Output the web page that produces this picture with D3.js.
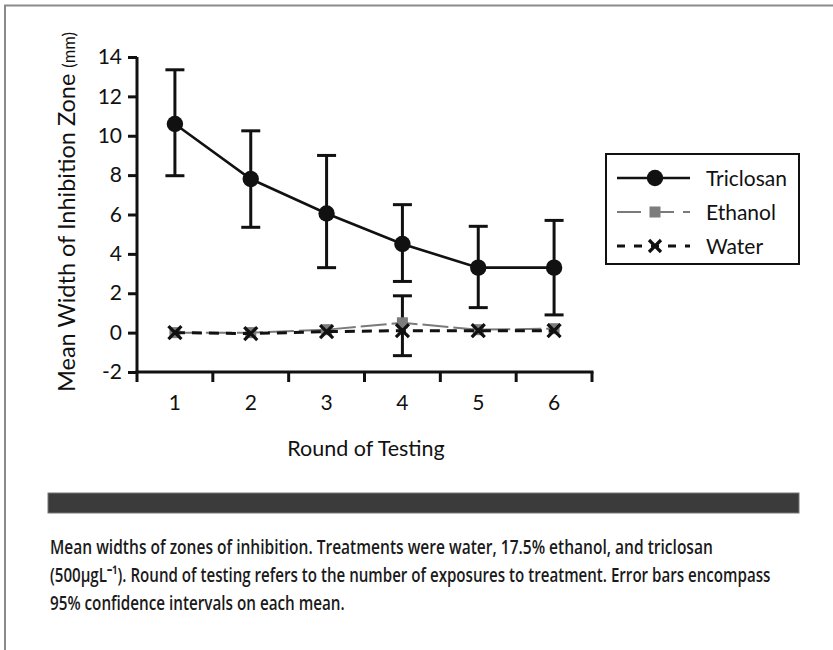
<!DOCTYPE html>
<html>
<head>
<meta charset="utf-8">
<script src="https://cdn.jsdelivr.net/npm/d3@7/dist/d3.min.js"></script>
<style>
  html, body { margin: 0; padding: 0; background: #ffffff; }
  svg { display: block; }
</style>
</head>
<body>
<svg id="chart" width="833" height="650"></svg>
<script>
// Rounds of testing (x categories)
const rounds = [1, 2, 3, 4, 5, 6];
const yTicks = [-2, 0, 2, 4, 6, 8, 10, 12, 14];

// Triclosan: mean and 95% CI bounds
const triclosanMean = [10.6, 7.8, 6.05, 4.5, 3.3, 3.3];
const triclosanLow  = [7.97, 5.35, 3.3, 2.6, 1.27, 0.9];
const triclosanHigh = [13.35, 10.25, 9.0, 6.5, 5.4, 5.7];

// Ethanol (17.5%): mean, CI shown only where it is visible (round 4)
const ethanolMean = [0.0, 0.0, 0.15, 0.5, 0.15, 0.2];
const ethanolLow  = [null, null, null, -1.17, null, null];
const ethanolHigh = [null, null, null, 1.87, null, null];

// Water
const waterMean = [0.0, -0.05, 0.05, 0.1, 0.1, 0.1];

const seriesNames = ["Triclosan", "Ethanol", "Water"];

const caption = [
  "Mean widths of zones of inhibition. Treatments were water, 17.5% ethanol, and triclosan",
  "(500\u03BCgL\u207B\u00B9). Round of testing refers to the number of exposures to treatment. Error bars encompass",
  "95% confidence intervals on each mean."
];

const svg = d3.select("#chart");
const font = "Lato, 'Open Sans', 'DejaVu Sans', sans-serif";

// page frame (top and left edges)
svg.append("line").attr("x1", 4).attr("x2", 833).attr("y1", 5.5).attr("y2", 5.5)
  .attr("stroke", "#8a8a8a").attr("stroke-width", 2);
svg.append("line").attr("x1", 5).attr("x2", 5).attr("y1", 5).attr("y2", 650)
  .attr("stroke", "#8a8a8a").attr("stroke-width", 2);

const x = d3.scaleBand().domain(rounds).range([137, 592]);
const y = d3.scaleLinear().domain([-2, 14]).range([372, 57]);
const cx = d => x(d) + x.bandwidth() / 2;

// Y axis
const yAxis = d3.axisLeft(y).tickValues(yTicks).tickSize(9).tickPadding(6)
  .tickFormat(d3.format("d"));
const gy = svg.append("g").attr("transform", "translate(137,0)").call(yAxis);
gy.select(".domain").attr("stroke", "#111").attr("stroke-width", 3)
  .attr("d", `M0,${y(14)}V${y(-2)}`);
gy.selectAll(".tick line").attr("stroke", "#111").attr("stroke-width", 3);
gy.selectAll(".tick text").attr("font-family", font).attr("font-size", 21).attr("fill", "#111")
  .text(d => d < 0 ? "-" + Math.abs(d) : d);

// X axis: labels centred on categories, ticks at category boundaries
const xAxis = d3.axisBottom(x).tickSize(0).tickPadding(23);
const gx = svg.append("g").attr("transform", `translate(0,${y(-2)})`).call(xAxis);
gx.select(".domain").attr("stroke", "#111").attr("stroke-width", 3)
  .attr("d", `M${x.range()[0] - 1.5},0H${x.range()[1] + 1.5}`);
gx.selectAll(".tick text").attr("font-family", font).attr("font-size", 21).attr("fill", "#111");
const bounds = [x(rounds[0])].concat(rounds.map(r => x(r) + x.bandwidth()));
gx.selectAll("line.bound").data(bounds).join("line").attr("class", "bound")
  .attr("x1", d => d).attr("x2", d => d).attr("y1", 0).attr("y2", 10)
  .attr("stroke", "#111").attr("stroke-width", 3);

// Axis titles
svg.append("text").attr("x", 366).attr("y", 456).attr("text-anchor", "middle")
  .attr("font-family", font).attr("font-size", 21.5).attr("fill", "#111").text("Round of Testing");
const yt = svg.append("text").attr("transform", "translate(75,212) rotate(-90)")
  .attr("text-anchor", "middle").attr("font-family", font).attr("font-size", 23.5).attr("fill", "#111");
yt.append("tspan").text("Mean Width of Inhibition Zone ");
yt.append("tspan").attr("font-size", 16.5).text("(mm)");

// Error bar helper
function errorBars(low, high, color) {
  const idx = rounds.map((r, i) => i).filter(i => low[i] !== null);
  const g = svg.append("g").attr("stroke", color).attr("stroke-width", 3).attr("fill", "none");
  idx.forEach(i => {
    const xc = cx(rounds[i]);
    g.append("line").attr("x1", xc).attr("x2", xc).attr("y1", y(low[i])).attr("y2", y(high[i]));
    g.append("line").attr("x1", xc - 9.5).attr("x2", xc + 9.5).attr("y1", y(low[i])).attr("y2", y(low[i]));
    g.append("line").attr("x1", xc - 9.5).attr("x2", xc + 9.5).attr("y1", y(high[i])).attr("y2", y(high[i]));
  });
}

const line = d3.line().x((d, i) => cx(rounds[i])).y(d => y(d));

// Ethanol series
errorBars(ethanolLow, ethanolHigh, "#111");
svg.append("path").datum(ethanolMean).attr("d", line).attr("fill", "none")
  .attr("stroke", "#7a7a7a").attr("stroke-width", 2).attr("stroke-dasharray", "26,5");
svg.selectAll("rect.eth").data(ethanolMean).join("rect").attr("class", "eth")
  .attr("x", (d, i) => cx(rounds[i]) - 5.5).attr("y", d => y(d) - 5.5)
  .attr("width", 11).attr("height", 11).attr("fill", "#7d7d7d");

// Water series
svg.append("path").datum(waterMean).attr("d", line).attr("fill", "none")
  .attr("stroke", "#111").attr("stroke-width", 3).attr("stroke-dasharray", "10,7");
const xMark = (g, xc, yc, s) => {
  g.append("path").attr("d", `M${xc - s},${yc - s}L${xc + s},${yc + s}M${xc - s},${yc + s}L${xc + s},${yc - s}`)
    .attr("stroke", "#111").attr("stroke-width", 3.2).attr("fill", "none");
};
const gw = svg.append("g");
waterMean.forEach((d, i) => xMark(gw, cx(rounds[i]), y(d), 6.5));

// Triclosan series
errorBars(triclosanLow, triclosanHigh, "#111");
svg.append("path").datum(triclosanMean).attr("d", line).attr("fill", "none")
  .attr("stroke", "#111").attr("stroke-width", 2.6);
svg.selectAll("circle.tri").data(triclosanMean).join("circle").attr("class", "tri")
  .attr("cx", (d, i) => cx(rounds[i])).attr("cy", d => y(d)).attr("r", 8.2).attr("fill", "#111");

// Legend
const lg = svg.append("g");
lg.append("rect").attr("x", 606).attr("y", 154).attr("width", 193).attr("height", 110)
  .attr("fill", "#fff").attr("stroke", "#111").attr("stroke-width", 2);
const rowY = [178, 212, 246];
const lx0 = 617, lx1 = 690, lm = 655;
// Triclosan key
lg.append("line").attr("x1", lx0).attr("x2", lx1).attr("y1", rowY[0]).attr("y2", rowY[0])
  .attr("stroke", "#111").attr("stroke-width", 2.6);
lg.append("circle").attr("cx", lm).attr("cy", rowY[0]).attr("r", 8.2).attr("fill", "#111");
// Ethanol key
lg.append("line").attr("x1", lx0).attr("x2", lx1).attr("y1", rowY[1]).attr("y2", rowY[1])
  .attr("stroke", "#7a7a7a").attr("stroke-width", 2).attr("stroke-dasharray", "24,9");
lg.append("rect").attr("x", lm - 5.5).attr("y", rowY[1] - 5.5).attr("width", 11).attr("height", 11).attr("fill", "#7d7d7d");
// Water key
lg.append("line").attr("x1", lx0).attr("x2", lx1).attr("y1", rowY[2]).attr("y2", rowY[2])
  .attr("stroke", "#111").attr("stroke-width", 3).attr("stroke-dasharray", "8,9");
xMark(lg, lm, rowY[2], 6);
lg.selectAll("text").data(seriesNames).join("text")
  .attr("x", 706).attr("y", (d, i) => rowY[i] + 7.5)
  .attr("font-family", font).attr("font-size", 21).attr("fill", "#111").text(d => d);

// Dark separator bar
svg.append("rect").attr("x", 48).attr("y", 493).attr("width", 751).attr("height", 20)
  .attr("fill", "#3b3b3b").attr("stroke", "#777").attr("stroke-width", 1);

// Caption: set in a compressed sans, each line squeezed horizontally to its width
const capEnds = [713, 771, 345];
const capX = 50;
svg.selectAll("text.cap").data(caption).join("text").attr("class", "cap")
  .attr("x", 0).attr("y", 0)
  .attr("font-family", "'Open Sans', sans-serif")
  .attr("font-size", 20).attr("font-weight", 600).attr("fill", "#1a1a1a")
  .text(d => d)
  .each(function(d, i) {
    const w = this.getComputedTextLength();
    const sx = (capEnds[i] - capX) / w;
    d3.select(this).attr("transform", `translate(${capX},${554 + i * 28}) scale(${sx},1)`);
  });
</script>
</body>
</html>
